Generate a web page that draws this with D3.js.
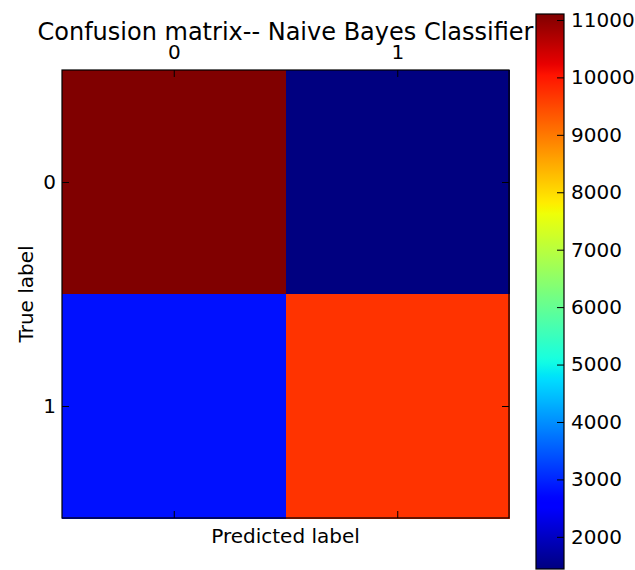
<!DOCTYPE html>
<html>
<head>
<meta charset="utf-8">
<script src="https://cdn.jsdelivr.net/npm/d3@7"></script>
<style>
  html, body { margin: 0; padding: 0; background: #fff; }
  svg { display: block; }
  text { font-family: "DejaVu Sans", sans-serif; fill: #000; }
</style>
</head>
<body>
<svg id="chart" width="635" height="570"></svg>
<script>
// ---- data ----
const title = "Confusion matrix-- Naive Bayes Classifier";
const classes = ["0", "1"];
const trueLabels = ["0", "0", "1", "1"];
const predLabels = ["0", "1", "0", "1"];
const counts = [11104, 1440, 2800, 9710];
const colorbarTicks = [2000, 3000, 4000, 5000, 6000, 7000, 8000, 9000, 10000, 11000];
const xLabel = "Predicted label";
const yLabel = "True label";

// ---- jet colormap (matplotlib segment data) ----
const jetR = d3.scaleLinear().domain([0, 0.35, 0.66, 0.89, 1]).range([0, 0, 1, 1, 0.5]).clamp(true);
const jetG = d3.scaleLinear().domain([0, 0.125, 0.375, 0.64, 0.91, 1]).range([0, 0, 1, 1, 0, 0]).clamp(true);
const jetB = d3.scaleLinear().domain([0, 0.11, 0.34, 0.65, 1]).range([0.5, 1, 1, 0, 0]).clamp(true);
const jet = t => d3.rgb(Math.round(jetR(t) * 255), Math.round(jetG(t) * 255), Math.round(jetB(t) * 255)).formatHex();

const vmin = d3.min(counts), vmax = d3.max(counts);
const color = d3.scaleSequential(jet).domain([vmin, vmax]);

const svg = d3.select("#chart");

// ---- layout ----
const ax = { left: 62, top: 70, right: 509, bottom: 518 };
const x = d3.scaleBand().domain(classes).range([ax.left, ax.right]);
const y = d3.scaleBand().domain(classes).range([ax.top, ax.bottom]);

const cells = counts.map((v, i) => ({ t: trueLabels[i], p: predLabels[i], v }));

svg.append("g").selectAll("rect").data(cells).join("rect")
  .attr("x", d => x(d.p))
  .attr("y", d => y(d.t))
  .attr("width", x.bandwidth() + 0.5)
  .attr("height", y.bandwidth() + 0.5)
  .attr("fill", d => color(d.v))
  .attr("shape-rendering", "crispEdges");

// axis frame
svg.append("rect")
  .attr("x", ax.left).attr("y", ax.top)
  .attr("width", ax.right - ax.left).attr("height", ax.bottom - ax.top)
  .attr("fill", "none").attr("stroke", "#000").attr("stroke-width", 1.2);

// ticks (inside, all four sides) via d3 axes
const tickLen = 7;
const xc = d3.scalePoint().domain(classes).range([ax.left + x.bandwidth() / 2, ax.right - x.bandwidth() / 2]);
const yc = d3.scalePoint().domain(classes).range([ax.top + y.bandwidth() / 2, ax.bottom - y.bandwidth() / 2]);

const fs = 20;
// top axis with labels
const gTop = svg.append("g").attr("transform", `translate(0,${ax.top})`)
  .call(d3.axisTop(xc).tickSizeInner(-tickLen).tickSizeOuter(0).tickPadding(11));
// bottom ticks
const gBot = svg.append("g").attr("transform", `translate(0,${ax.bottom})`)
  .call(d3.axisBottom(xc).tickSizeInner(-tickLen).tickSizeOuter(0).tickFormat(""));
// left axis with labels
const gLeft = svg.append("g").attr("transform", `translate(${ax.left},0)`)
  .call(d3.axisLeft(yc).tickSizeInner(-tickLen).tickSizeOuter(0).tickPadding(6));
// right ticks
const gRight = svg.append("g").attr("transform", `translate(${ax.right},0)`)
  .call(d3.axisRight(yc).tickSizeInner(-tickLen).tickSizeOuter(0).tickFormat(""));

[gTop, gBot, gLeft, gRight].forEach(g => {
  g.select(".domain").remove();
  g.selectAll(".tick line").attr("stroke", "#000").attr("stroke-width", 1);
  g.selectAll(".tick text").attr("font-size", fs).attr("font-family", "DejaVu Sans").attr("fill", "#222");
});

// title
svg.append("text")
  .attr("x", (ax.left + ax.right) / 2).attr("y", 40)
  .attr("text-anchor", "middle").attr("font-size", 24).attr("fill", "#222")
  .text(title);

// axis labels
svg.append("text")
  .attr("x", (ax.left + ax.right) / 2).attr("y", 543)
  .attr("text-anchor", "middle").attr("font-size", fs).attr("fill", "#222")
  .text(xLabel);
svg.append("text")
  .attr("transform", `translate(33,${(ax.top + ax.bottom) / 2}) rotate(-90)`)
  .attr("text-anchor", "middle").attr("font-size", fs).attr("fill", "#222")
  .text(yLabel);

// ---- colorbar ----
const cb = { left: 536, right: 564, top: 14, bottom: 569 };
const cbScale = d3.scaleLinear().domain([vmin, vmax]).range([cb.bottom, cb.top]);

const defs = svg.append("defs");
const grad = defs.append("linearGradient").attr("id", "jetgrad")
  .attr("x1", 0).attr("y1", 1).attr("x2", 0).attr("y2", 0);
const stops = d3.range(0, 1.0001, 0.01);
grad.selectAll("stop").data(stops).join("stop")
  .attr("offset", d => d)
  .attr("stop-color", d => jet(d));

svg.append("rect")
  .attr("x", cb.left).attr("y", cb.top)
  .attr("width", cb.right - cb.left).attr("height", cb.bottom - cb.top)
  .attr("fill", "url(#jetgrad)")
  .attr("stroke", "#000").attr("stroke-width", 1.2);

const gCb = svg.append("g").attr("transform", `translate(${cb.right},0)`)
  .call(d3.axisRight(cbScale).tickValues(colorbarTicks).tickSizeInner(-7).tickSizeOuter(0).tickPadding(7).tickFormat(d3.format("d")));
gCb.select(".domain").remove();
gCb.selectAll(".tick line").attr("stroke", "#000");
gCb.selectAll(".tick text").attr("font-size", fs).attr("font-family", "DejaVu Sans").attr("fill", "#222");
</script>
</body>
</html>
